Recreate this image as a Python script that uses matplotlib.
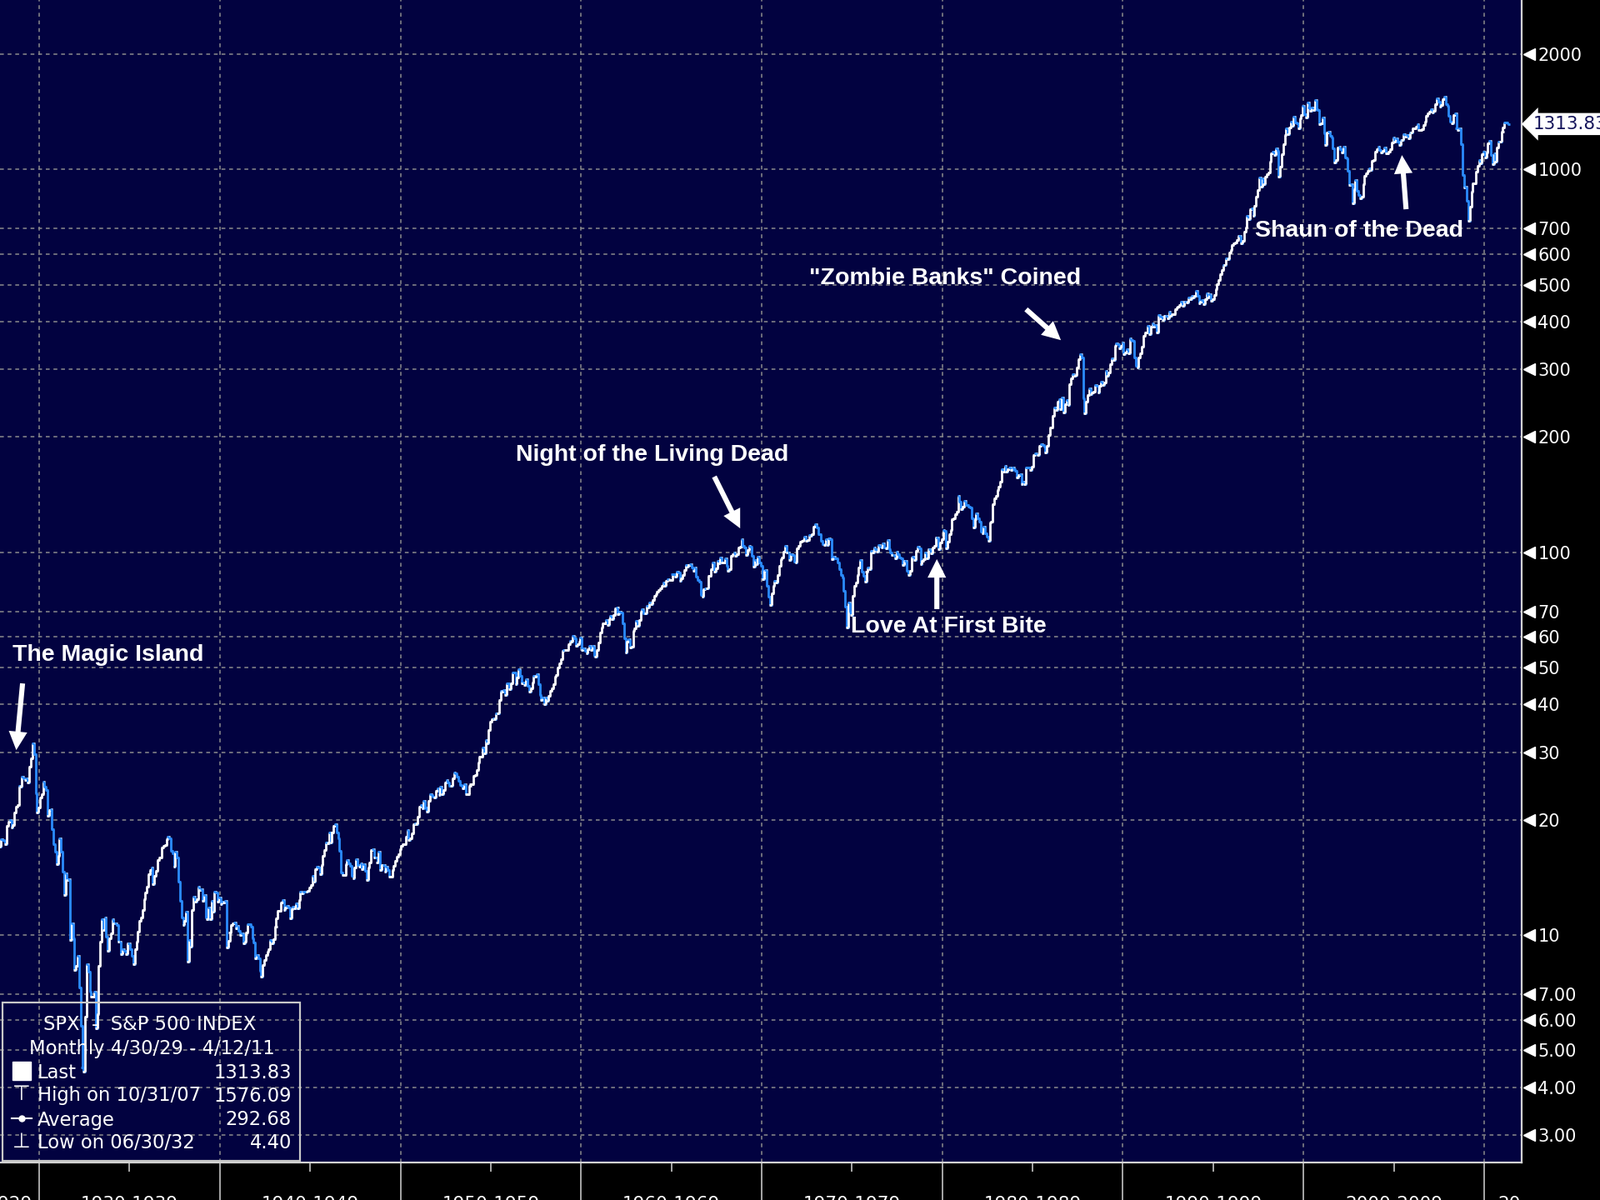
import numpy as np
import matplotlib
matplotlib.use("Agg")
import matplotlib.pyplot as plt
from matplotlib.collections import LineCollection
from matplotlib.patches import Rectangle
from matplotlib import transforms

# monthly closes of SPX, Oct 1927 .. Apr 2011 (one row per year)
first_open = 17.3
closes_1920s = [17.0, 17.8, 17.7,
                17.6, 17.3, 19.3, 19.8, 20.0, 19.1, 19.4, 20.9, 21.6, 21.9, 24.5, 24.4,
                25.9, 25.6, 25.4, 25.6, 25.0, 27.5, 28.9, 31.7, 29.6, 23.4, 20.9, 21.5]
closes_1930s = [22.8, 23.3, 25.1, 24.4, 23.9, 20.5, 21.2, 21.3, 18.9, 17.3, 16.5, 15.3,
                16.1, 17.9, 16.5, 14.6, 12.7, 14.5, 13.9, 14.0, 9.7, 10.7, 9.8, 8.1,
                8.3, 8.8, 7.3, 5.8, 4.5, 4.4, 6.1, 8.4, 8.0, 7.1, 6.9, 6.9,
                7.1, 5.7, 6.2, 8.3, 9.6, 11.0, 10.3, 11.1, 9.9, 9.1, 9.8, 10.1,
                11.0, 10.7, 10.7, 10.6, 9.6, 9.6, 8.9, 9.2, 9.1, 8.9, 9.5, 9.5,
                9.2, 8.8, 8.4, 9.2, 9.6, 10.2, 10.9, 11.1, 11.6, 12.4, 12.9, 13.4,
                14.4, 14.8, 15.0, 13.6, 14.3, 14.7, 15.7, 15.9, 15.9, 16.9, 17.1, 17.2,
                17.8, 18.1, 17.9, 16.6, 16.3, 15.1, 16.5, 15.9, 13.8, 12.3, 11.1, 10.6,
                10.9, 11.5, 8.5, 9.7, 9.3, 11.6, 12.6, 12.2, 12.4, 13.4, 13.1, 13.2,
                12.3, 12.7, 11.1, 11.0, 11.8, 11.0, 12.3, 11.5, 13.0, 12.9, 12.2, 12.5]
closes_1940s = [12.05, 12.22, 12.15, 12.27, 9.27, 9.67, 10.13, 10.59, 10.73, 10.79, 10.39, 10.58,
                10.23, 10.00, 10.07, 9.52, 9.59, 10.16, 10.67, 10.66, 10.49, 9.81, 9.56, 8.69,
                8.84, 8.70, 8.05, 7.77, 8.33, 8.61, 8.88, 9.03, 9.20, 9.69, 9.52, 9.77,
                10.53, 11.06, 11.53, 11.56, 12.17, 12.32, 11.62, 11.77, 11.91, 11.82, 11.06, 11.67,
                11.83, 11.73, 12.09, 11.74, 12.31, 12.99, 12.81, 12.98, 12.96, 12.94, 13.01, 13.28,
                13.49, 14.30, 13.75, 14.87, 15.09, 14.98, 14.38, 15.25, 16.13, 16.65, 17.44, 17.36,
                18.48, 17.41, 18.51, 19.29, 19.48, 18.56, 17.86, 16.55, 14.54, 14.31, 14.33, 15.30,
                15.66, 15.41, 15.17, 14.28, 14.06, 15.01, 15.77, 15.20, 15.11, 15.39, 14.85, 15.30,
                14.69, 13.93, 14.98, 15.48, 16.69, 16.74, 15.97, 15.97, 15.49, 16.54, 14.75, 15.20,
                15.22, 14.62, 15.06, 14.74, 14.16, 14.16, 14.76, 15.16, 15.58, 16.04, 16.28, 16.76]
closes_1950s = [17.05, 17.22, 17.29, 18.07, 18.78, 17.69, 17.84, 18.42, 19.45, 19.53, 19.51, 20.41,
                21.66, 21.80, 21.40, 22.43, 21.52, 20.96, 22.40, 23.28, 23.26, 22.94, 22.88, 23.77,
                24.14, 23.26, 24.37, 23.32, 23.86, 24.96, 25.40, 25.03, 24.54, 24.52, 25.66, 26.57,
                26.38, 25.90, 25.29, 24.62, 24.54, 24.14, 24.75, 23.32, 23.35, 24.54, 24.76, 24.81,
                26.08, 26.15, 26.94, 28.26, 29.19, 29.21, 30.88, 29.83, 32.31, 31.68, 34.24, 35.98,
                36.63, 36.76, 36.58, 37.96, 37.91, 41.03, 43.52, 43.18, 43.67, 42.34, 45.51, 45.48,
                43.82, 45.34, 48.48, 48.38, 45.20, 46.97, 49.39, 47.51, 45.35, 45.58, 45.08, 46.67,
                44.72, 43.26, 44.11, 45.74, 47.43, 47.37, 47.91, 45.22, 42.42, 41.06, 41.72, 39.99,
                41.70, 40.84, 42.10, 43.44, 44.09, 45.24, 47.19, 47.75, 50.06, 51.33, 52.48, 55.21,
                55.42, 55.41, 55.44, 57.59, 58.68, 58.47, 60.51, 59.60, 56.88, 57.52, 58.28, 59.89]
closes_1960s = [55.61, 56.12, 55.34, 54.37, 55.83, 56.92, 55.51, 56.96, 53.52, 53.39, 55.54, 58.11,
                61.78, 63.44, 65.06, 65.31, 66.56, 64.64, 66.76, 68.07, 66.73, 68.62, 71.32, 71.55,
                68.84, 69.96, 69.55, 65.24, 59.63, 54.75, 58.23, 59.12, 56.27, 56.52, 62.26, 63.10,
                66.20, 64.29, 66.57, 69.80, 70.80, 69.37, 69.13, 72.50, 71.70, 74.01, 73.23, 75.02,
                77.04, 77.80, 78.98, 79.46, 80.37, 81.69, 83.18, 81.83, 84.18, 84.86, 84.42, 84.75,
                87.56, 87.43, 86.16, 89.11, 88.42, 84.12, 85.25, 87.17, 89.96, 92.42, 91.61, 92.43,
                92.88, 91.22, 89.23, 91.06, 86.13, 84.74, 83.60, 77.10, 76.56, 80.20, 80.45, 80.33,
                86.61, 86.78, 90.20, 94.01, 89.08, 90.64, 94.75, 93.64, 96.71, 93.90, 94.00, 96.47,
                92.24, 89.36, 90.20, 97.59, 98.68, 99.58, 97.74, 98.86, 102.67, 103.41, 108.37, 103.86,
                103.01, 98.13, 101.51, 103.69, 103.46, 97.71, 91.83, 95.51, 93.12, 97.24, 93.81, 92.06]
closes_1970s = [85.02, 89.50, 89.63, 81.52, 76.55, 72.72, 78.05, 81.52, 84.21, 83.25, 87.20, 92.15,
                95.88, 96.75, 100.31, 103.95, 99.63, 99.70, 95.58, 99.03, 98.34, 94.23, 93.99, 102.09,
                103.94, 106.57, 107.20, 107.67, 109.53, 107.14, 107.39, 111.09, 110.55, 111.58, 116.67, 118.05,
                116.03, 111.68, 111.52, 106.97, 104.95, 104.26, 108.22, 104.25, 108.43, 108.29, 95.96, 97.55,
                96.57, 96.22, 93.98, 90.31, 87.28, 86.00, 79.31, 72.15, 63.54, 73.90, 69.97, 68.56,
                76.98, 81.59, 83.36, 87.30, 91.15, 95.19, 88.75, 86.88, 83.87, 89.04, 91.24, 90.19,
                100.86, 99.71, 102.77, 101.64, 100.18, 104.28, 103.44, 102.91, 105.24, 102.90, 102.10, 107.46,
                102.03, 99.82, 98.42, 98.44, 96.12, 100.48, 98.85, 96.77, 96.53, 92.34, 94.83, 95.10,
                89.25, 87.04, 89.21, 96.83, 97.24, 95.53, 100.68, 103.29, 102.54, 93.15, 94.70, 96.11,
                99.93, 96.28, 101.59, 101.76, 99.08, 102.91, 103.81, 109.32, 109.32, 101.82, 106.16, 107.94]
closes_1980s = [114.16, 113.66, 102.09, 106.29, 111.24, 114.24, 121.67, 122.38, 125.46, 127.47, 140.52, 135.76,
                129.55, 131.27, 136.00, 132.81, 132.59, 131.21, 130.92, 122.79, 116.18, 121.89, 126.35, 122.55,
                120.40, 113.11, 111.96, 116.44, 111.88, 109.61, 107.09, 119.51, 120.42, 133.71, 138.54, 140.64,
                145.30, 148.06, 152.96, 164.42, 162.39, 168.11, 162.56, 164.40, 166.07, 163.55, 166.40, 164.93,
                163.41, 157.06, 159.18, 160.05, 150.55, 153.18, 150.66, 166.68, 166.10, 166.09, 163.58, 167.24,
                179.63, 181.18, 180.66, 179.83, 189.55, 191.85, 190.92, 188.63, 182.08, 189.82, 202.17, 211.28,
                211.78, 226.92, 238.90, 235.52, 247.35, 250.84, 236.12, 252.93, 231.32, 243.98, 249.22, 242.17,
                274.08, 284.20, 291.70, 288.36, 290.10, 304.00, 318.66, 329.80, 321.83, 251.79, 230.30, 247.08,
                257.07, 267.82, 258.89, 261.33, 262.16, 273.50, 272.02, 261.52, 271.91, 278.97, 273.70, 277.72,
                297.47, 288.86, 294.87, 309.64, 320.52, 317.98, 346.08, 351.45, 349.15, 340.36, 345.99, 353.40]
closes_1990s = [329.08, 331.89, 339.94, 330.80, 361.23, 358.02, 356.15, 322.56, 306.05, 304.00, 322.22, 330.22,
                343.93, 367.07, 375.22, 375.35, 389.83, 371.16, 387.81, 395.43, 387.86, 392.45, 375.22, 417.09,
                408.79, 412.70, 403.69, 414.95, 415.35, 408.14, 424.21, 414.03, 417.80, 418.68, 431.35, 435.71,
                438.78, 443.38, 451.67, 440.19, 450.19, 450.53, 448.13, 463.56, 458.93, 467.83, 461.79, 466.45,
                481.61, 467.14, 445.77, 450.91, 456.50, 444.27, 458.26, 475.49, 462.69, 472.35, 453.69, 459.27,
                470.42, 487.39, 500.71, 514.71, 533.40, 544.75, 562.06, 561.88, 584.41, 581.50, 605.37, 615.93,
                636.02, 640.43, 645.50, 654.17, 669.12, 670.63, 639.95, 651.99, 687.31, 705.27, 757.02, 740.74,
                786.16, 790.82, 757.12, 801.34, 848.28, 885.14, 954.29, 899.47, 947.28, 914.62, 955.40, 970.43,
                980.28, 1049.34, 1101.75, 1111.75, 1090.82, 1133.84, 1120.67, 957.28, 1017.01, 1098.67, 1163.63, 1229.23,
                1279.64, 1238.33, 1286.37, 1335.18, 1301.84, 1372.71, 1328.72, 1320.41, 1282.71, 1362.93, 1388.91, 1469.25]
closes_2000s = [1394.46, 1366.42, 1498.58, 1452.43, 1420.60, 1454.60, 1430.83, 1517.68, 1436.51, 1429.40, 1314.95, 1320.28,
                1366.01, 1239.94, 1160.33, 1249.46, 1255.82, 1224.38, 1211.23, 1133.58, 1040.94, 1059.78, 1139.45, 1148.08,
                1130.20, 1106.73, 1147.39, 1076.92, 1067.14, 989.82, 911.62, 916.07, 815.28, 885.76, 936.31, 879.82,
                855.70, 841.15, 848.18, 916.92, 963.59, 974.50, 990.31, 1008.01, 995.97, 1050.71, 1058.20, 1111.92,
                1131.13, 1144.94, 1126.21, 1107.30, 1120.68, 1140.84, 1101.72, 1104.24, 1114.58, 1130.20, 1173.82, 1211.92,
                1181.27, 1203.60, 1180.59, 1156.85, 1191.50, 1191.33, 1234.18, 1220.33, 1228.81, 1207.01, 1249.48, 1248.29,
                1280.08, 1280.66, 1294.83, 1310.61, 1270.09, 1270.20, 1276.66, 1303.82, 1335.85, 1377.94, 1400.63, 1418.30,
                1438.24, 1406.82, 1420.86, 1482.37, 1530.62, 1503.35, 1455.27, 1473.99, 1526.75, 1549.38, 1481.14, 1468.36,
                1378.55, 1330.63, 1322.70, 1385.59, 1400.38, 1280.00, 1267.38, 1282.83, 1166.36, 968.75, 896.24, 903.25,
                825.88, 735.09, 797.87, 872.81, 919.14, 919.32, 987.48, 1020.62, 1057.08, 1036.19, 1095.63, 1115.10]
closes_2010s = [1073.87, 1104.49, 1169.43, 1186.69, 1089.41, 1030.71, 1101.60, 1049.33, 1141.20, 1183.26, 1180.55, 1257.64,
                1286.12, 1327.22, 1325.83, 1313.83]

y_ticks = [3, 4, 5, 6, 7, 10, 20, 30, 40, 50, 60, 70, 100, 200, 300, 400, 500, 600, 700, 1000, 2000]
decades = [1930, 1940, 1950, 1960, 1970, 1980, 1990, 2000, 2010]
decade_labels = ["1920-1929", "1930-1939", "1940-1949", "1950-1959", "1960-1969",
                 "1970-1979", "1980-1989", "1990-1999", "2000-2009", "2010-2019"]
decade_label_x = [1926.9, 1935, 1945, 1955, 1965, 1975, 1985, 1995, 2005, 2013.46]

legend_rows = [("Last", "1313.83"), ("High on 10/31/07", "1576.09"),
               ("Average", "292.68"), ("Low on 06/30/32", "4.40")]

notes = [
    ("The Magic Island", (1928.5, 53.9), "left", (1929.08, 45.4), (1928.73, 30.4)),
    ("Night of the Living Dead", (1963.92, 179.4), "center", (1967.38, 157.5), (1968.81, 115.4)),
    ("Love At First Bite", (1974.95, 63.9), "left", (1979.7, 71.0), (1979.7, 95.9)),
    ("\"Zombie Banks\" Coined", (1980.14, 519), "center", (1984.64, 431), (1986.57, 358)),
    ("Shaun of the Dead", (2003.10, 691), "center", (2005.68, 787), (2005.45, 1090)),
]

bg = "#020240"
up_col = "#ffffff"
down_col = "#2b8cff"
grid_col = "#8c8c8c"

closes = np.array(closes_1920s + closes_1930s + closes_1940s + closes_1950s + closes_1960s
                  + closes_1970s + closes_1980s + closes_1990s + closes_2000s + closes_2010s)
opens = np.concatenate([[first_open], closes[:-1]])
xs = 1927 + (9 + np.arange(len(closes)) + 0.5) / 12.0

fig = plt.figure(figsize=(19.2, 14.4), dpi=100, facecolor="black")
ax = fig.add_axes([0, 45 / 1440, 1826 / 1920, 1395 / 1440])
ax.set_facecolor(bg)
ax.set_yscale("log")

# OHLC style bars: open tick left, close tick right
w = 0.13
segs, cols = [], []
for x, o, c in zip(xs, opens, closes):
    col = up_col if c >= o else down_col
    segs += [[(x, min(o, c)), (x, max(o, c))], [(x - w, o), (x, o)], [(x, c), (x + w, c)]]
    cols += [col] * 3
ax.add_collection(LineCollection(segs, colors=cols, linewidths=2.0, zorder=3))

# axes, ticks, grid
ax.set_xlim(1927.83, 2012.08)
ax.set_ylim(2.543, 2771)
ax.set_xticks(decades)
ax.set_xticks([d + 5 for d in decades[:-1]], minor=True)
ax.set_xticklabels([])
ax.set_yticks(y_ticks)
ax.yaxis.set_minor_locator(matplotlib.ticker.NullLocator())
ax.set_yticklabels([str(v) if v >= 10 else f"{v:.2f}" for v in y_ticks])
ax.yaxis.tick_right()
ax.tick_params(axis="y", which="both", length=0, pad=14, labelsize=15, labelcolor="white")
ax.tick_params(axis="x", which="major", length=33, width=1.3, color="#b4b4b4", direction="out")
ax.tick_params(axis="x", which="minor", length=8, width=1.3, color="#b4b4b4", direction="out")
ax.grid(True, which="major", color=grid_col, linestyle=(0, (3, 3)), linewidth=1.1, zorder=1)
ax.set_axisbelow(True)
for side in ["top", "left"]:
    ax.spines[side].set_visible(False)
for side in ["right", "bottom"]:
    ax.spines[side].set_color("#d2d2d2")
    ax.spines[side].set_linewidth(1.6)

# triangle markers at y ticks
ytrans = transforms.blended_transform_factory(ax.transAxes, ax.transData)
ax.plot([1 + 9 / 1826] * len(y_ticks), y_ticks, linestyle="none", marker="<",
        markersize=10, color="white", transform=ytrans, clip_on=False)

# last price tag
ax.text(1 + 14 / 1826, closes[-1], f"{closes[-1]:.2f}", transform=ytrans, ha="left", va="center",
        fontsize=15.5, color="#14145a", clip_on=False,
        bbox=dict(boxstyle="larrow,pad=0.15", fc="white", ec="none"))

# decade labels under the axis
xtrans = transforms.blended_transform_factory(ax.transData, ax.transAxes)
clip = transforms.TransformedBbox(matplotlib.transforms.Bbox([[0, 0], [1826 / 1920, 1]]), fig.transFigure)
for lab, lx in zip(decade_labels, decade_label_x):
    t = ax.text(lx, -40 / 1395, lab, transform=xtrans, ha="center", va="top",
                fontsize=15.5, color="white")
    t.set_clip_box(clip)
    t.set_clip_on(True)

# legend box (transparent)
lfs = 16.3
ax.add_patch(Rectangle((3 / 1826, 2 / 1395), 357 / 1826, 190 / 1395, transform=ax.transAxes,
                       fill=False, ec="#c8c8c8", lw=1.6, zorder=4))
ax.text(180 / 1826, (1395 - 1230) / 1395, "SPX  -  S&P 500 INDEX", transform=ax.transAxes,
        ha="center", va="center", fontsize=lfs, color="white", zorder=5)
ax.text(182 / 1826, (1395 - 1258) / 1395, "Monthly 4/30/29 - 4/12/11", transform=ax.transAxes,
        ha="center", va="center", fontsize=lfs, color="white", zorder=5)
row_y = [1287, 1315, 1344, 1372]
for (lab, val), yy in zip(legend_rows, row_y):
    yf = (1395 - yy) / 1395
    ax.text(45 / 1826, yf, lab, transform=ax.transAxes, ha="left", va="center",
            fontsize=lfs, color="white", zorder=5)
    ax.text(350 / 1826, yf, val, transform=ax.transAxes, ha="right", va="center",
            fontsize=lfs, color="white", zorder=5)
sym_x = 26 / 1826
ax.plot([sym_x], [(1395 - 1285) / 1395], marker="s", markersize=16, color="white",
        linestyle="none", transform=ax.transAxes, zorder=5)
ax.text(sym_x, (1395 - 1313) / 1395, "\u22a4", transform=ax.transAxes, ha="center", va="center",
        fontsize=18, color="white", zorder=5)
ax.plot([14 / 1826, 38 / 1826], [(1395 - 1342) / 1395] * 2, color="white", lw=1.5,
        transform=ax.transAxes, zorder=5)
ax.plot([sym_x], [(1395 - 1342) / 1395], marker="o", markersize=5, color="white",
        linestyle="none", transform=ax.transAxes, zorder=5)
ax.text(sym_x, (1395 - 1370) / 1395, "\u22a5", transform=ax.transAxes, ha="center", va="center",
        fontsize=18, color="white", zorder=5)

# annotations
for txt, (tx, ty), ha, tail, head in notes:
    ax.text(tx, ty, txt, ha=ha, va="center", fontsize=20.5, fontweight="bold",
            family="Liberation Sans", color="white", zorder=6)
    ax.annotate("", xy=head, xytext=tail, zorder=6,
                arrowprops=dict(arrowstyle="simple,head_length=0.8,head_width=0.8,tail_width=0.22",
                                mutation_scale=20, fc="white", ec="none", shrinkA=0, shrinkB=0))

fig.savefig("out.png", dpi=100, facecolor="black")
